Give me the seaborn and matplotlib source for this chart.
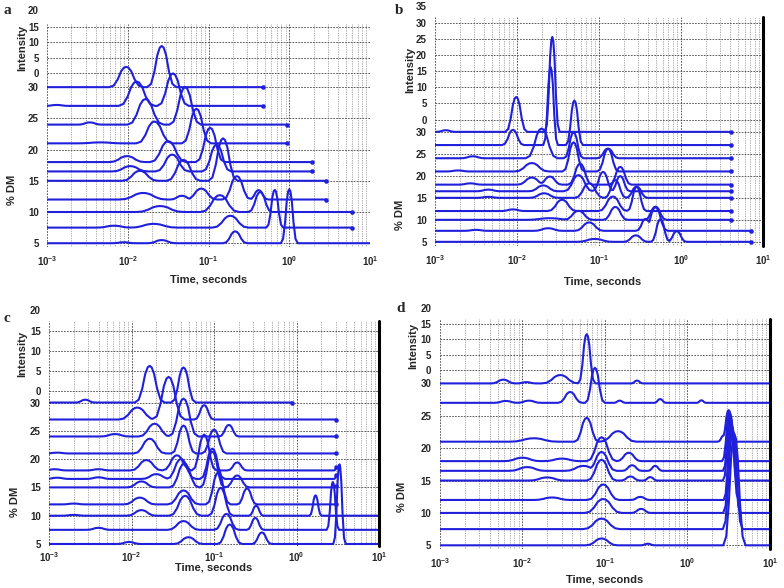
import matplotlib
matplotlib.use("Agg")
import matplotlib.pyplot as plt
import matplotlib.ticker as mticker
import numpy as np
import pandas as pd
import seaborn as sns

# peaks: (log10 time in s, intensity, half width in decades)
levels_a = [30, 27, 24, 21, 18, 16.5, 15, 12, 10, 7.5, 5]
peaks_a = [
    [(-2.02, 6.5, 0.14), (-1.58, 13.2, 0.12)],
    [(-2.88, 0.3, 0.1), (-1.89, 7.8, 0.15), (-1.44, 10.4, 0.13)],
    [(-2.47, 0.7, 0.1), (-1.78, 8.2, 0.15), (-1.29, 12.0, 0.13)],
    [(-2.34, 0.3, 0.2), (-1.67, 7.0, 0.15), (-1.15, 11.1, 0.12)],
    [(-2.01, 1.9, 0.15), (-1.50, 6.7, 0.15), (-0.98, 11.0, 0.12)],
    [(-1.97, 1.7, 0.15), (-1.45, 5.4, 0.14), (-0.90, 8.6, 0.12)],
    [(-1.85, 3.2, 0.15), (-1.31, 6.7, 0.14), (-0.82, 13.6, 0.12)],
    [(-1.81, 2.1, 0.2), (-1.33, 1.2, 0.1), (-1.09, 3.5, 0.13), (-0.65, 7.5, 0.12), (-0.38, 3.0, 0.08)],
    [(-1.60, 1.9, 0.2), (-0.86, 5.4, 0.16), (-0.36, 6.4, 0.1)],
    [(-2.17, 0.6, 0.15), (-1.68, 1.2, 0.2), (-0.73, 3.8, 0.15), (-0.18, 12.1, 0.07)],
    [(-2.05, 0.3, 0.1), (-1.58, 1.0, 0.12), (-0.67, 3.8, 0.1), (0.0, 17.3, 0.07)],
]
ends_a = [-0.33, -0.33, -0.03, -0.03, 0.28, 0.28, 0.46, 0.46, 0.78, 0.78, 1.0]

levels_b = [30, 27, 24, 21, 18, 16.5, 15, 12, 10, 7.5, 5]
peaks_b = [
    [(-2.87, 0.5, 0.08), (-2.01, 10.8, 0.09), (-1.57, 29.4, 0.06)],
    [(-2.05, 4.7, 0.09), (-1.59, 24.1, 0.06), (-1.30, 13.8, 0.07)],
    [(-2.54, 0.6, 0.1), (-1.70, 9.2, 0.13), (-1.31, 8.0, 0.08), (-0.89, 3.0, 0.09)],
    [(-2.72, 0.3, 0.1), (-1.82, 2.6, 0.14), (-1.31, 9.0, 0.09), (-0.89, 7.0, 0.09)],
    [(-2.57, 0.4, 0.1), (-1.82, 2.2, 0.12), (-1.60, 2.5, 0.1), (-1.23, 6.5, 0.1), (-0.74, 5.5, 0.09)],
    [(-2.35, 0.5, 0.1), (-1.68, 1.8, 0.12), (-1.25, 5.0, 0.12), (-0.95, 6.0, 0.09), (-0.74, 4.7, 0.08)],
    [(-2.35, 0.3, 0.1), (-1.67, 1.4, 0.12), (-1.12, 4.5, 0.12), (-0.80, 5.5, 0.09), (-0.54, 3.5, 0.09)],
    [(-2.05, 0.5, 0.1), (-1.45, 3.5, 0.12), (-0.83, 4.5, 0.12), (-0.54, 7.5, 0.08)],
    [(-1.60, 0.5, 0.2), (-1.25, 2.8, 0.12), (-0.80, 4.0, 0.1), (-0.31, 4.1, 0.09)],
    [(-2.50, 0.3, 0.1), (-1.62, 0.8, 0.12), (-1.12, 2.6, 0.12), (-0.43, 3.7, 0.08), (-0.31, 7.3, 0.1)],
    [(-1.05, 0.9, 0.15), (-0.55, 2.0, 0.1), (-0.25, 7.0, 0.08), (-0.05, 3.3, 0.08)],
]
ends_b = [0.61, 0.61, 0.61, 0.61, 0.61, 0.61, 0.61, 0.61, 0.61, 0.86, 0.86]

levels_c = [30, 27, 24, 21, 18, 16.5, 15, 12, 10, 7.5, 5]
peaks_c = [
    [(-2.56, 0.7, 0.08), (-1.78, 9.2, 0.12), (-1.37, 8.8, 0.1)],
    [(-1.93, 3.0, 0.15), (-1.55, 10.7, 0.13), (-1.12, 3.6, 0.08)],
    [(-2.20, 0.6, 0.12), (-1.72, 3.2, 0.13), (-1.37, 9.5, 0.12), (-0.82, 2.9, 0.08)],
    [(-2.90, 0.2, 0.1), (-1.78, 3.7, 0.13), (-1.37, 7.0, 0.1), (-1.00, 6.0, 0.1)],
    [(-2.93, 0.3, 0.1), (-2.40, 0.3, 0.1), (-1.82, 2.6, 0.13), (-1.45, 3.8, 0.12), (-1.12, 9.0, 0.1), (-0.72, 2.0, 0.08), (0.50, 1.5, 0.03)],
    [(-2.90, 0.3, 0.1), (-2.40, 0.4, 0.1), (-1.70, 1.2, 0.12), (-1.40, 5.0, 0.12), (-1.02, 7.6, 0.1), (0.50, 2.0, 0.03)],
    [(-1.88, 1.5, 0.12), (-1.36, 6.0, 0.12), (-1.02, 9.0, 0.1), (-0.72, 3.0, 0.1), (0.50, 0.6, 0.03)],
    [(-2.70, 0.2, 0.1), (-1.90, 1.7, 0.13), (-1.37, 3.5, 0.13), (-0.95, 8.0, 0.1), (-0.60, 4.0, 0.08)],
    [(-2.70, 0.2, 0.1), (-1.88, 1.4, 0.12), (-1.35, 5.0, 0.13), (-0.92, 7.0, 0.1), (-0.49, 2.5, 0.06), (0.23, 5.1, 0.05)],
    [(-2.40, 0.5, 0.1), (-1.37, 2.2, 0.13), (-0.85, 4.0, 0.1), (-0.50, 3.0, 0.07), (0.44, 12.0, 0.05)],
    [(-2.03, 0.5, 0.1), (-1.31, 1.7, 0.12), (-0.81, 4.9, 0.1), (-0.42, 2.9, 0.08), (0.52, 20.0, 0.05)],
]
ends_c = [-0.05, 0.48, 0.48, 0.48, 0.48, 0.48, 0.48, 0.48, 1.0, 1.0, 1.0]

levels_d = [30, 27, 21, 18, 16.5, 15, 12, 10, 7.5, 5]
peaks_d = [
    [(-2.23, 1.2, 0.1), (-1.95, 0.4, 0.08), (-1.54, 2.7, 0.15), (-1.22, 15.9, 0.07), (-0.61, 0.9, 0.05)],
    [(-2.20, 0.6, 0.1), (-1.92, 0.7, 0.1), (-1.42, 3.5, 0.1), (-1.12, 11.3, 0.08), (-0.82, 0.7, 0.05), (-0.33, 1.2, 0.05), (0.17, 0.8, 0.04)],
    [(-1.86, 1.1, 0.2), (-1.22, 7.7, 0.1), (-0.84, 3.4, 0.15), (0.44, 2.0, 0.05), (0.50, 10.2, 0.06)],
    [(-2.00, 1.1, 0.15), (-1.52, 0.8, 0.15), (-1.04, 7.7, 0.12), (-0.71, 2.7, 0.1), (0.51, 15.8, 0.06)],
    [(-1.94, 1.2, 0.15), (-1.26, 1.6, 0.15), (-1.04, 6.1, 0.12), (-0.67, 1.8, 0.08), (-0.39, 1.6, 0.06), (0.52, 18.0, 0.06)],
    [(-1.70, 1.0, 0.15), (-1.04, 6.7, 0.12), (-0.69, 1.3, 0.08), (-0.45, 1.1, 0.06), (0.52, 20.0, 0.06)],
    [(-1.64, 0.8, 0.15), (-1.02, 5.0, 0.13), (-0.57, 1.0, 0.08), (0.53, 25.0, 0.06)],
    [(-1.02, 4.5, 0.15), (-0.56, 1.3, 0.08), (0.54, 28.0, 0.07)],
    [(-1.04, 3.4, 0.15), (0.55, 32.0, 0.08)],
    [(-1.04, 2.2, 0.13), (-0.48, 0.5, 0.06), (0.57, 36.0, 0.09)],
]
ends_d = [1.0] * 10

blue = "#2020dc"
# outline of one peak, in units of its half width / height
bump_dx = np.array([-1.5, -1.1, -0.75, -0.45, -0.2, 0, 0.2, 0.45, 0.75, 1.1, 1.5])
bump_dy = np.array([0, 0.08, 0.38, 0.78, 0.96, 1, 0.96, 0.78, 0.38, 0.08, 0])


def make_curve(pk, end):
    xs = [-3.0, end]
    for c, h, w in pk:
        xs += list(c + bump_dx * w)
    xs = np.unique(np.clip(xs, -3.0, end))
    ys = np.zeros_like(xs)
    for c, h, w in pk:
        ys = np.maximum(ys, h * np.interp(xs, c + bump_dx * w, bump_dy, left=0, right=0))
    return xs, ys


def draw_panel(ax, levels, peaks, ends, k, int0, ylim, int_ticks, right_line, xpad=3):
    rows = []
    end_pts = []
    for dm, pk, end in zip(levels, peaks, ends):
        xs, ys = make_curve(pk, end)
        for x, y in zip(xs, ys):
            rows.append({"t": 10 ** x, "y": dm + k * y, "dm": dm})
        if end < 0.99:
            end_pts.append({"t": 10 ** end, "y": dm + k * ys[-1]})
    df = pd.DataFrame(rows)
    ax.set_xscale("log")
    sns.lineplot(data=df, x="t", y="y", units="dm", estimator=None, sort=False,
                 color=blue, lw=1.5, ax=ax, legend=False)
    if end_pts:
        sns.scatterplot(data=pd.DataFrame(end_pts), x="t", y="y", color=blue, s=9,
                        edgecolor=blue, ax=ax, legend=False, zorder=3)
    ax.set_xlim(1e-3, 10)
    ax.set_ylim(*ylim)
    ax.xaxis.set_minor_locator(mticker.LogLocator(base=10, subs=np.arange(2, 10), numticks=50))
    ax.xaxis.set_minor_formatter(mticker.NullFormatter())
    ax.set_xticks([1e-3, 1e-2, 1e-1, 1, 10])
    ax.set_xticklabels([r"$\mathbf{10^{-3}}$", r"$\mathbf{10^{-2}}$", r"$\mathbf{10^{-1}}$",
                        r"$\mathbf{10^{0}}$", r"$\mathbf{10^{1}}$"])
    dm_ticks = [5, 10, 15, 20, 25, 30]
    ypos = list(dm_ticks)
    ylab = [str(v) for v in dm_ticks]
    for it in int_ticks:
        p = int0 + k * it
        if p <= ylim[1]:
            ypos.append(p)
            ylab.append(str(it))
        else:
            ax.text(-0.025, p, str(it), transform=ax.get_yaxis_transform(), ha="right",
                    va="center", fontsize=7, fontweight="bold", clip_on=False)
    ax.set_yticks(ypos)
    ax.set_yticklabels(ylab)
    ax.grid(which="major", axis="both", color="0.25", ls=(0, (2, 1.5)), lw=0.6)
    ax.grid(which="minor", axis="x", color="0.4", ls=(0, (1, 1.5)), lw=0.5)
    ax.tick_params(axis="y", length=4, width=0.8, labelsize=7, pad=2)
    ax.tick_params(axis="x", which="major", length=2, width=0.6, labelsize=7, pad=xpad)
    ax.tick_params(axis="x", which="minor", length=0)
    for t in ax.get_yticklabels():
        t.set_fontweight("bold")
    for s in ["top", "bottom", "left", "right"]:
        ax.spines[s].set_visible(False)
    if right_line:
        ax.axvline(10, color="black", lw=2.2, clip_on=False)
    ax.set_xlabel("")
    ax.set_ylabel("")
    ax.set_axisbelow(True)


sns.set_theme(style="white")
plt.rcParams["font.family"] = ["Liberation Sans", "DejaVu Sans"]
plt.rcParams["mathtext.fontset"] = "custom"
plt.rcParams["mathtext.bf"] = "Liberation Sans:bold"
plt.rcParams["mathtext.rm"] = "Liberation Sans"

fig = plt.figure(figsize=(7.84, 5.88), dpi=100)
ax_a = fig.add_axes([0.060, 0.580, 0.412, 0.379])
ax_b = fig.add_axes([0.555, 0.582, 0.418, 0.389])
ax_c = fig.add_axes([0.0625, 0.071, 0.421, 0.383])
ax_d = fig.add_axes([0.561, 0.066, 0.421, 0.391])

draw_panel(ax_a, levels_a, peaks_a, ends_a, 0.50, 32.2, (4.4, 40.1), [0, 5, 10, 15, 20], False)
draw_panel(ax_b, levels_b, peaks_b, ends_b, 0.734, 32.8, (4.1, 56.1), [0, 5, 10, 15, 20, 25, 30, 35], True)
draw_panel(ax_c, levels_c, peaks_c, ends_c, 0.704, 32.1, (4.6, 44.4), [0, 5, 10, 15, 20], True, xpad=1)
draw_panel(ax_d, levels_d, peaks_d, ends_d, 0.478, 32.0, (4.4, 39.9), [0, 5, 10, 15, 20], True)

# panel letters and axis titles (figure pixel positions / 784, 588)
W, H = 784.0, 588.0
for letter, x, y in [("a", 3, 10), ("b", 395, 10), ("c", 3, 318), ("d", 396, 309)]:
    fig.text(x / W, 1 - y / H, letter, family="Liberation Serif", fontweight="bold",
             fontsize=11, ha="left", va="center")
for x, y in [(209, 279), (603, 282), (214, 568), (605, 580)]:
    fig.text(x / W, 1 - y / H, "Time, seconds", fontsize=8, fontweight="bold",
             ha="center", va="center")
for x, y in [(12, 190), (400, 215), (15, 502), (402, 497)]:
    fig.text(x / W, 1 - y / H, "% DM", fontsize=8, fontweight="bold", rotation=90,
             ha="center", va="center")
for x, y in [(22, 48), (410, 70), (22, 354), (413, 346)]:
    fig.text(x / W, 1 - y / H, "Intensity", fontsize=8, fontweight="bold", rotation=90,
             ha="center", va="center")

fig.savefig("out.png", dpi=100)
